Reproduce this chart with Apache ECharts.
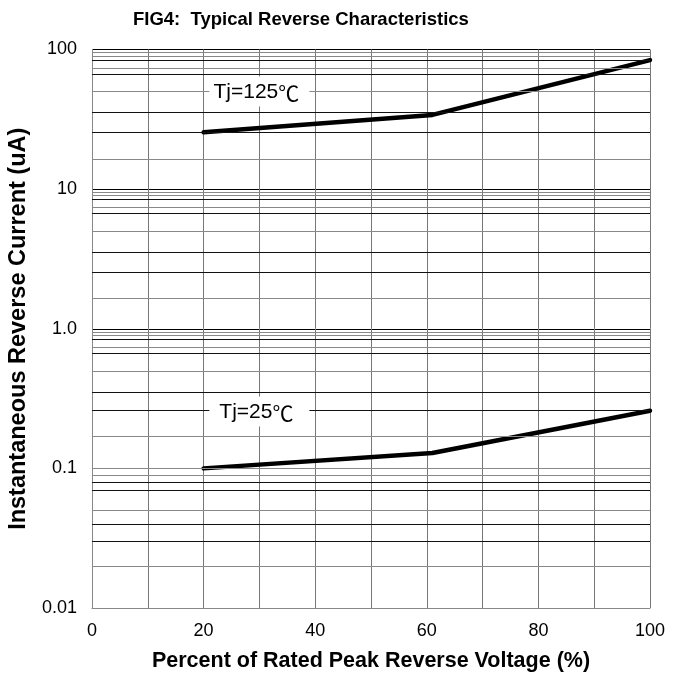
<!DOCTYPE html>
<html><head><meta charset="utf-8">
<script src="https://cdn.jsdelivr.net/npm/echarts@6/dist/echarts.min.js"></script>
<style>html,body{margin:0;padding:0;background:#fff}#c{width:680px;height:673px}</style>
</head><body><div id="c"></div>
<script>
// Data
const voltage125 = [20, 61, 100];
const current125 = [25.5, 34, 84];
const voltage25 = [20, 61, 100];
const current25 = [0.1, 0.129, 0.259];

// Axis ticks
const yDecades = [0.01, 0.1, 1, 10, 100];
const yTickLabels = ['0.01', '0.1', '1.0', '10', '100'];
const xTickLabels = [0, 20, 40, 60, 80, 100];

// Minor horizontal gridlines inside each decade (fraction of decade top value)
const minorMultipliers = [0.95, 0.9, 0.84, 0.74, 0.67, 0.5, 0.355, 0.255, 0.165];
const minorDark = [false, false, true, false, true, false, true, true, false];

// Curve annotations
const annotMain = ['Tj=125', 'Tj=25'];
const annotUnit = ['℃', '℃'];
const annotX = [30, 30];
const annotY = [50, 0.255];

const gridLineData = [];
yDecades.slice(1).forEach(top => {
  minorMultipliers.forEach((m, i) => {
    gridLineData.push({
      yAxis: top * m,
      lineStyle: { color: minorDark[i] ? '#111' : '#888', width: 1, type: 'solid' }
    });
  });
});

function pairs(xs, ys) { return xs.map((x, i) => [x, ys[i]]); }

const font = 'Liberation Sans, Arial, sans-serif';

function annot(i) {
  return {
    symbol: 'rect', symbolSize: [100, 30],
    itemStyle: { color: '#fff' },
    label: { show: true, position: 'inside',
      formatter: '{a|' + annotMain[i] + '}{b|' + annotUnit[i] + '}',
      offset: [-3, 1],
      rich: {
        a: { fontSize: 21, fontFamily: font, color: '#000' },
        b: { fontSize: 21, fontFamily: 'Noto Sans CJK SC, sans-serif', color: '#000' }
      }
    },
    silent: true,
    data: [{ coord: [annotX[i], annotY[i]] }]
  };
}

const chart = echarts.init(document.getElementById('c'), null, { renderer: 'canvas' });
chart.setOption({
  animation: false,
  backgroundColor: '#fff',
  title: {
    text: 'FIG4:  Typical Reverse Characteristics',
    left: 133, top: 10, padding: 0,
    textStyle: { fontFamily: font, fontWeight: 'bold', fontSize: 18.5, color: '#000' }
  },
  grid: { left: 92, top: 49.5, right: 30, bottom: 65, containLabel: false, outerBoundsMode: 'none' },
  xAxis: {
    type: 'value', min: 0, max: 100, interval: 10,
    name: 'Percent of Rated Peak Reverse Voltage (%)',
    nameLocation: 'middle', nameGap: 42,
    nameTextStyle: { fontFamily: font, fontWeight: 'bold', fontSize: 21.5, color: '#000' },
    axisLine: { show: true, lineStyle: { color: '#888', width: 1 } },
    axisTick: { show: false },
    axisLabel: {
      margin: 14, fontFamily: font, fontSize: 18, color: '#000',
      formatter: v => xTickLabels.indexOf(v) >= 0 ? String(v) : ''
    },
    splitLine: { show: true, lineStyle: { color: '#777', width: 1 } }
  },
  yAxis: {
    type: 'log', logBase: 10, min: 0.01, max: 100,
    name: 'Instantaneous Reverse Current (uA)',
    nameLocation: 'middle', nameGap: 61,
    nameTextStyle: { fontFamily: font, fontWeight: 'bold', fontSize: 23.5, color: '#000' },
    axisLine: { show: true, lineStyle: { color: '#888', width: 1 } },
    axisTick: { show: false },
    axisLabel: {
      margin: 15, fontFamily: font, fontSize: 18, color: '#000',
      padding: [0, 0, 8, 0],
      formatter: v => {
        const i = yDecades.findIndex(d => Math.abs(Math.log10(d) - Math.log10(v)) < 1e-6);
        return i >= 0 ? yTickLabels[i] : '';
      }
    },
    splitLine: { show: true, lineStyle: { color: '#000', width: 1 } }
  },
  series: [
    {
      type: 'line', data: [], z: 1, silent: true,
      markLine: { silent: true, symbol: ['none', 'none'], label: { show: false },
        animation: false, data: gridLineData }
    },
    {
      type: 'line', name: 'Tj=125', z: 3, data: pairs(voltage125, current125),
      showSymbol: false, lineStyle: { color: '#000', width: 4.5, cap: 'round', join: 'round' },
      markPoint: annot(0)
    },
    {
      type: 'line', name: 'Tj=25', z: 3, data: pairs(voltage25, current25),
      showSymbol: false, lineStyle: { color: '#000', width: 4.5, cap: 'round', join: 'round' },
      markPoint: annot(1)
    }
  ]
});
</script>
</body></html>
